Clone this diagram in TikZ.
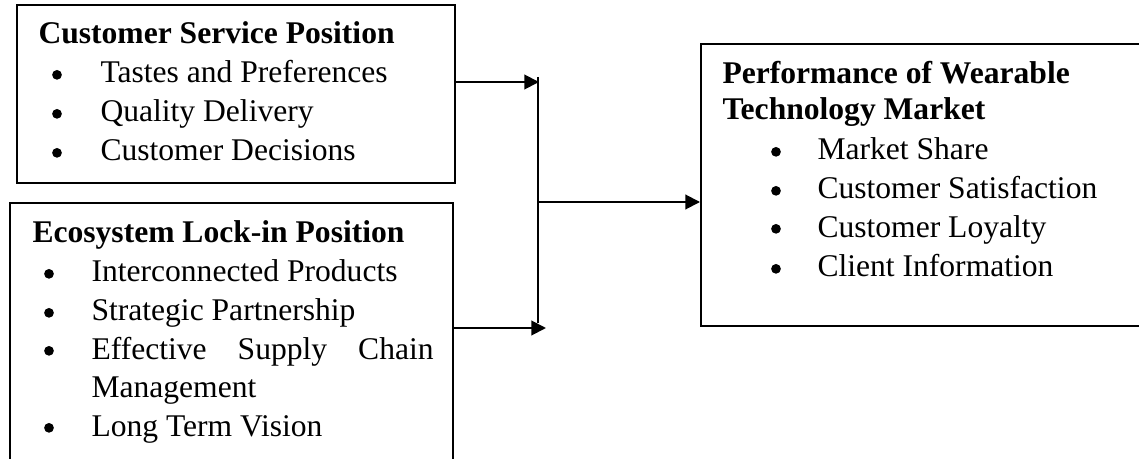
\documentclass[tikz,border=0pt,12pt]{standalone}
\usepackage{fontspec}
\setmainfont{Liberation Serif}
\usetikzlibrary{arrows.meta,fit}
\tikzset{
  panel/.style={draw, line width=0.75pt, inner sep=0pt},
  head/.style={anchor=base west, inner sep=0pt, font=\bfseries},
  item/.style={anchor=base west, inner sep=0pt},
  dot/.style={circle, fill, inner sep=0pt, minimum size=3.7pt, yshift=3.1pt},
  link/.style={line width=0.75pt, -{Triangle[length=5.6pt,width=5.6pt]}},
}
\begin{document}
\begin{tikzpicture}[x=0.38pt, y=-0.38pt]
\useasboundingbox (0,0) rectangle (1139,459);
\clip (0,0) rectangle (1139,459);
%\draw[step=50, black!20] (0,0) grid (1139,459);

% customer service
    \node[panel, fit={(17,5) (455,183)}] (service) {};
    \node[head] (serviceh) at (38,44) {Customer Service Position};
    \node[dot] (sb1) at (57,83)  {};
    \node[dot] (sb2) at (57,122) {};
    \node[dot] (sb3) at (57,161) {};
    \node[item] (s1) at (100,83)  {Tastes and Preferences};
    \node[item] (s2) at (100,122) {Quality Delivery};
    \node[item] (s3) at (100,161) {Customer Decisions};

% ecosystem lock-in
    \node[panel, fit={(10,203) (453,500)}] (lockin) {};
    \node[head] (lockinh) at (32,242) {Ecosystem Lock-in Position};
    \node[dot] (lb1) at (49,282) {};
    \node[dot] (lb2) at (49,321) {};
    \node[dot] (lb3) at (49,359) {};
    \node[dot] (lb4) at (49,436) {};
    \node[item] (l1) at (91,282) {Interconnected Products};
    \node[item] (l2) at (91,321) {Strategic Partnership};
    \node[item] (l3) at (91,359) {\makebox[130pt][s]{Effective Supply Chain}};
    \node[item] (l3b) at (91,397) {Management};
    \node[item] (l4) at (91,436) {Long Term Vision};

% performance
    \node[panel, fit={(701,44) (1180,326)}] (perf) {};
    \node[head] (perfh1) at (722,84)  {Performance of Wearable};
    \node[head] (perfh2) at (722,120) {Technology Market};
    \node[dot] (pb1) at (776,160) {};
    \node[dot] (pb2) at (776,199) {};
    \node[dot] (pb3) at (776,237) {};
    \node[dot] (pb4) at (776,277) {};
    \node[item] (p1) at (817,160) {Market Share};
    \node[item] (p2) at (817,199) {Customer Satisfaction};
    \node[item] (p3) at (817,237) {Customer Loyalty};
    \node[item] (p4) at (817,277) {Client Information};

% connectors
    \coordinate (tip1) at (539,82);
    \coordinate (tip2) at (546,328);
    \coordinate (jtop) at (538,77);
    \coordinate (jbot) at (538,323);
    \coordinate (jmid) at (538,202);
    \draw[link] (service.east |- tip1) -- (tip1);
    \draw[link] (lockin.east |- tip2) -- (tip2);
    \draw[line width=0.75pt] (jtop) -- (jbot);
    \draw[link] (jmid) -- (perf.west |- jmid);

\end{tikzpicture}
\end{document}
